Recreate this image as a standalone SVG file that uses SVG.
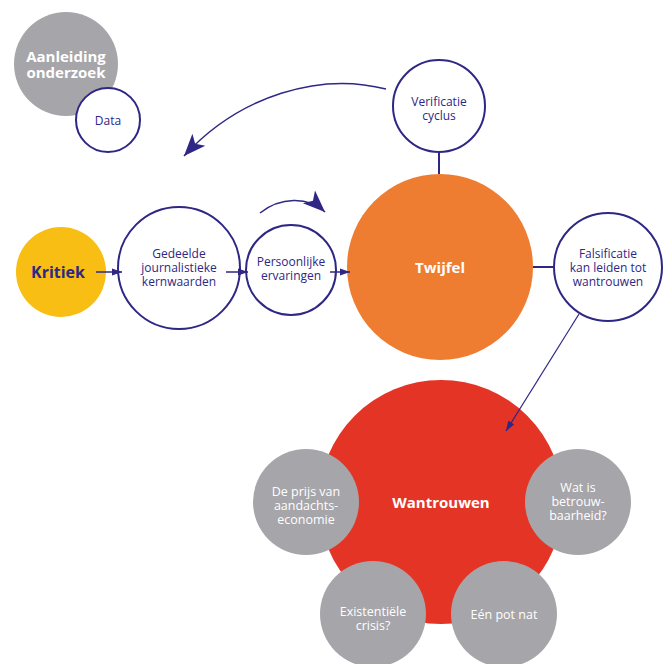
<svg xmlns="http://www.w3.org/2000/svg" width="670" height="664" viewBox="0 0 670 664">
<defs>
<style>
.ol{fill:#fff;stroke:#2E2785;stroke-width:2}
.gr{fill:#A6A5A9}
.t{font-family:"Open Sans","Noto Sans",sans-serif;font-size:12px;fill:#2E2785;text-anchor:middle}
.w{font-family:"Open Sans","Noto Sans",sans-serif;font-size:12.5px;fill:#fff;text-anchor:middle}
.b{font-weight:bold}
.c{fill:none;stroke:#2E2785;stroke-width:1.5}
</style>
<marker id="sm" viewBox="0 0 10 10" refX="10" refY="5" markerWidth="6" markerHeight="6" orient="auto" markerUnits="userSpaceOnUse"><path d="M0,1 L10,5 L0,9 z" fill="#2E2785"/></marker>
<marker id="lg" viewBox="0 0 10 10" refX="10" refY="5" markerWidth="22" markerHeight="22" orient="auto" markerUnits="userSpaceOnUse"><path d="M0,1 L10,5 L0,9 L2.5,5 z" fill="#2E2785"/></marker>
<marker id="md" viewBox="0 0 10 10" refX="10" refY="5" markerWidth="10" markerHeight="10" orient="auto" markerUnits="userSpaceOnUse"><path d="M0,1.5 L10,5 L0,8.5 z" fill="#2E2785"/></marker>
</defs>
<g id="aanleiding">
<circle cx="66" cy="64" r="52" class="gr"/>
<text class="w b" style="font-size:15px" x="66" y="62">Aanleiding</text>
<text class="w b" style="font-size:15px" x="66" y="78">onderzoek</text>
</g>
<g id="data">
<circle cx="108" cy="120" r="32" class="ol"/>
<text class="t" x="108" y="125">Data</text>
</g>
<g id="verificatie">
<circle cx="439" cy="106" r="46" class="ol"/>
<text class="t" x="439" y="106">Verificatie</text>
<text class="t" x="439" y="120">cyclus</text>
</g>
<g id="twijfel">
<circle cx="440" cy="267" r="93" fill="#EE7D31"/>
<text class="w b" style="font-size:15px" x="440" y="273">Twijfel</text>
</g>
<g id="kritiek">
<circle cx="61" cy="272" r="45" fill="#F9BE13"/>
<text class="t b" style="font-size:16px" x="58" y="278">Kritiek</text>
</g>
<g id="gedeelde">
<circle cx="179" cy="268" r="61" class="ol"/>
<text class="t" x="179" y="258">Gedeelde</text>
<text class="t" x="179" y="272">journalistieke</text>
<text class="t" x="179" y="286">kernwaarden</text>
</g>
<g id="persoonlijke">
<circle cx="291" cy="270" r="45" class="ol"/>
<text class="t" x="291" y="266">Persoonlijke</text>
<text class="t" x="291" y="280">ervaringen</text>
</g>
<g id="falsificatie">
<circle cx="608" cy="267" r="54" class="ol"/>
<text class="t" x="608" y="258">Falsificatie</text>
<text class="t" x="608" y="272">kan leiden tot</text>
<text class="t" x="608" y="286">wantrouwen</text>
</g>
<g id="wantrouwen">
<circle cx="441" cy="502" r="122" fill="#E43425"/>
<text class="w b" style="font-size:15px" x="441" y="508">Wantrouwen</text>
</g>
<g id="prijs">
<circle cx="306" cy="502" r="53" class="gr"/>
<text class="w" x="306" y="496">De prijs van</text>
<text class="w" x="306" y="510">aandachts-</text>
<text class="w" x="306" y="524">economie</text>
</g>
<g id="betrouwbaarheid">
<circle cx="578" cy="502" r="53" class="gr"/>
<text class="w" x="578" y="492">Wat is</text>
<text class="w" x="578" y="506">betrouw-</text>
<text class="w" x="578" y="520">baarheid?</text>
</g>
<g id="existentieel">
<circle cx="373" cy="614" r="53" class="gr"/>
<text class="w" x="373" y="616">Existentiële</text>
<text class="w" x="373" y="630">crisis?</text>
</g>
<g id="potnat">
<circle cx="504" cy="614" r="53" class="gr"/>
<text class="w" x="504" y="619">Eén pot nat</text>
</g>
<g id="connectors">
<path class="c" d="M386,89 C320,72 240,95 184,156" marker-end="url(#lg)"/>
<path class="c" d="M260,213 C280,197 308,196 325,212" marker-end="url(#lg)"/>
<line class="c" x1="96" y1="272" x2="122" y2="272" marker-end="url(#md)"/>
<line class="c" x1="226" y1="272" x2="248" y2="272" marker-end="url(#md)"/>
<line class="c" x1="330" y1="272" x2="350" y2="272" marker-end="url(#md)"/>
<line x1="439" y1="153" x2="439" y2="174" stroke="#2E2785" stroke-width="2"/>
<line x1="533" y1="267" x2="553" y2="267" stroke="#2E2785" stroke-width="2"/>
<line x1="579" y1="314" x2="506" y2="431" stroke="#2E2785" stroke-width="1.2" marker-end="url(#md)"/>
</g>
</svg>
